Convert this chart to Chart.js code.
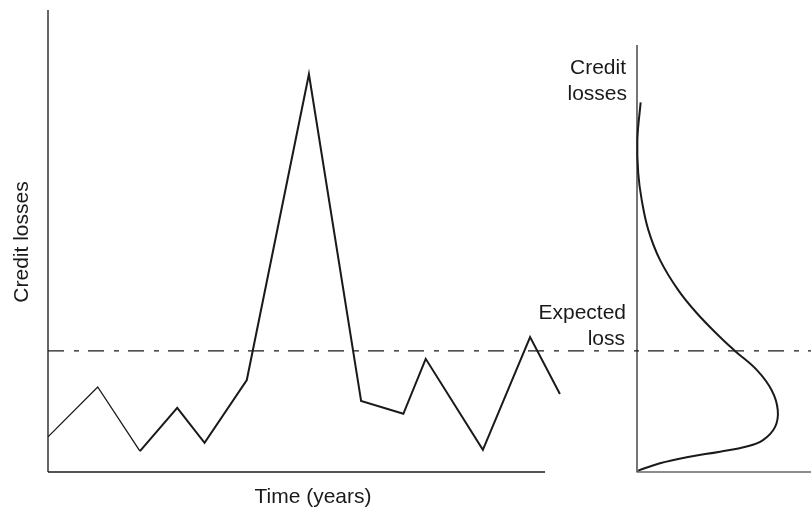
<!DOCTYPE html>
<html>
<head>
<meta charset="utf-8">
<script src="https://cdn.jsdelivr.net/npm/chart.js@4.4.0/dist/chart.umd.min.js"></script>
<style>
    html, body { margin: 0; padding: 0; background: #fff; }
    .wrap { position: relative; width: 811px; height: 511px; }
    .wrap canvas { position: absolute; top: 0; }
    #lossChart { left: 0; }
    #distChart { left: 540px; }
</style>
</head>
<body>
<div class="wrap">
    <canvas id="lossChart" width="811" height="511"></canvas>
    <canvas id="distChart" width="271" height="511"></canvas>
</div>
<script>
// time series (years, losses on a 0-100 scale)
const years = [0, 2, 3.7, 5.2, 6.3, 8, 10.5, 12.6, 14.3, 15.2, 17.5, 19.4, 20.6];
const losses = [7.6, 18.4, 4.5, 13.9, 6.3, 19.9, 86.1, 15.4, 12.6, 24.5, 4.8, 29.2, 16.9];
const expectedLoss = 26.2;

// loss distribution, drawn sideways (density along x, losses along y)
const distLosses = [80, 71.9, 64.7, 58.9, 52.4, 45.9, 39.4, 34.4, 29.2, 26.2, 22.1, 17.7, 13.4, 9.7, 6.9, 5.5, 4.4, 3.2, 1.9, 0.3];
const distDensity = [0.021, 0.002, 0.007, 0.027, 0.065, 0.132, 0.236, 0.343, 0.477, 0.563, 0.688, 0.774, 0.809, 0.793, 0.724, 0.630, 0.477, 0.286, 0.132, 0.007];

const FONT = '21px "Liberation Sans", Arial, Helvetica, sans-serif';
const INK = '#1a1a1a';

Chart.defaults.animation = false;
Chart.defaults.responsive = false;

const lossAxes = {
    id: 'lossAxes',
    beforeDatasetsDraw(chart) {
        const ctx = chart.ctx;
        const area = chart.chartArea;
        const yEl = chart.scales.y.getPixelForValue(expectedLoss);
        ctx.save();
        // y axis
        ctx.strokeStyle = '#666';
        ctx.lineWidth = 2;
        ctx.beginPath();
        ctx.moveTo(area.left, area.top);
        ctx.lineTo(area.left, area.bottom);
        ctx.stroke();
        // x axis
        ctx.strokeStyle = INK;
        ctx.lineWidth = 1.5;
        ctx.beginPath();
        ctx.moveTo(area.left, area.bottom);
        ctx.lineTo(area.right, area.bottom);
        ctx.stroke();
        // expected loss, runs across both panels
        ctx.lineWidth = 1.3;
        ctx.setLineDash([16, 10, 5, 9]);
        ctx.beginPath();
        ctx.moveTo(area.left, yEl);
        ctx.lineTo(chart.width, yEl);
        ctx.stroke();
        ctx.setLineDash([]);
        // titles
        ctx.fillStyle = INK;
        ctx.font = FONT;
        ctx.textAlign = 'center';
        ctx.textBaseline = 'middle';
        ctx.fillText('Time (years)', 313, 497);
        ctx.translate(22, 242);
        ctx.rotate(-Math.PI / 2);
        ctx.fillText('Credit losses', 0, 0);
        ctx.restore();
    }
};

const distAxes = {
    id: 'distAxes',
    beforeDatasetsDraw(chart) {
        const ctx = chart.ctx;
        const area = chart.chartArea;
        ctx.save();
        ctx.strokeStyle = INK;
        ctx.lineWidth = 1.2;
        ctx.beginPath();
        ctx.moveTo(area.left, area.top);
        ctx.lineTo(area.left, area.bottom);
        ctx.lineTo(chart.width, area.bottom);
        ctx.stroke();
        ctx.fillStyle = INK;
        ctx.font = FONT;
        ctx.textAlign = 'right';
        ctx.textBaseline = 'middle';
        const x = area.left - 11;
        ctx.fillText('Credit', x, 68);
        ctx.fillText('losses', x + 1, 94);
        ctx.fillText('Expected', x, 313);
        ctx.fillText('loss', x - 1, 339);
        ctx.restore();
    }
};

new Chart(document.getElementById('lossChart'), {
    type: 'line',
    data: {
        datasets: [{
            data: years.map((t, i) => ({ x: t, y: losses[i] })),
            borderColor: INK,
            borderWidth: 2,
            pointRadius: 0,
            tension: 0,
            clip: false,
            segment: {
                borderWidth: c => c.p0DataIndex < 2 ? 1.3 : 2
            }
        }]
    },
    options: {
        layout: { padding: { left: 48, top: 10, right: 266, bottom: 39 } },
        plugins: { legend: { display: false }, tooltip: { enabled: false } },
        scales: {
            x: { type: 'linear', min: 0, max: 20, display: false },
            y: { min: 0, max: 100, display: false }
        }
    },
    plugins: [lossAxes]
});

new Chart(document.getElementById('distChart'), {
    type: 'scatter',
    data: {
        datasets: [{
            data: distLosses.map((l, i) => ({ x: distDensity[i], y: l })),
            showLine: true,
            borderColor: INK,
            borderWidth: 2,
            pointRadius: 0,
            tension: 0.4,
            clip: false
        }]
    },
    options: {
        layout: { padding: { left: 97, top: 45, right: 0, bottom: 39 } },
        plugins: { legend: { display: false }, tooltip: { enabled: false } },
        scales: {
            x: { type: 'linear', min: 0, max: 1, display: false },
            y: { min: 0, max: 92.4, display: false }
        }
    },
    plugins: [distAxes]
});
</script>
</body>
</html>
